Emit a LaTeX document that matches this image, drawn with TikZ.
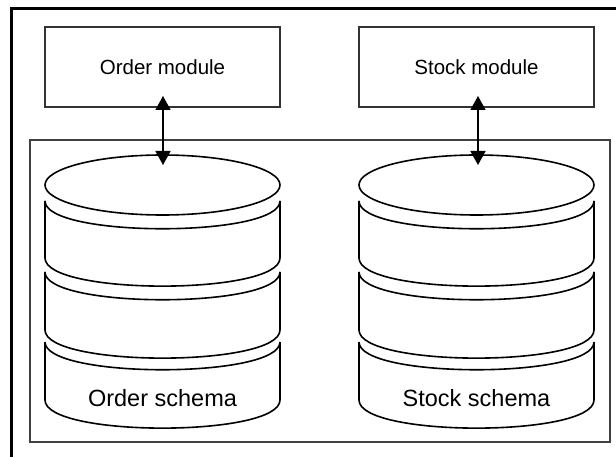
\documentclass[tikz,border=0pt]{standalone}
\usepackage{fontspec}
\setmainfont{Liberation Sans}
\usetikzlibrary{arrows.meta,shapes.geometric}
\begin{document}
\begin{tikzpicture}[x=1pt,y=-1pt,
  modbox/.style={draw=black!80,line width=1.6pt,minimum width=235pt,minimum height=80pt,inner sep=0pt,font=\fontsize{20.5}{24}\selectfont},
  container/.style={draw=black!75,line width=1.8pt},
  topell/.style={draw,ellipse,line width=1.6pt,minimum width=235pt,minimum height=60pt,inner sep=0pt},
  disk/.style={line width=1.6pt},
  lbl/.style={font=\fontsize{23.5}{27}\selectfont,inner sep=0pt},
  link/.style={line width=1.6pt,{Triangle[width=15pt,length=14pt]}-{Triangle[width=15pt,length=14pt]}},
  frame/.style={line width=3pt}
]
\useasboundingbox (0,0) rectangle (616,457);
\fill[white] (0,0) rectangle (616,457);
% outer frame (left and top edges visible)
\draw[frame] (11.5,457) -- (11.5,9) -- (616,9);
% inner container
\draw[container] (30,140) rectangle (610,442);
% modules
\node[modbox] (om) at (162.5,67) {Order module};
\node[modbox] (sm) at (476.5,67) {Stock module};
% cylinders
\foreach \cx/\nm in {162.5/o,476.5/s}{
  \pgfmathsetmacro{\L}{\cx-117.5}
  \pgfmathsetmacro{\R}{\cx+117.5}
  \foreach \yt/\yb in {201/258,272/330,342/400}{
    \draw[disk] (\L,\yt) .. controls (\L,\yt+37) and (\R,\yt+37) .. (\R,\yt);
    \draw[disk] (\L,\yt) -- (\L,\yb) .. controls (\L,\yb+37.5) and (\R,\yb+37.5) .. (\R,\yb) -- (\R,\yt);
  }
}
\node[topell] (otop) at (162.5,185) {};
\node[topell] (stop) at (476.5,185) {};
\node[lbl] (oschema) at (162.5,398) {Order schema};
\node[lbl] (sschema) at (476.5,398) {Stock schema};
% connectors
\coordinate (oa1) at (163,96);
\coordinate (oa2) at (163,165);
\coordinate (sa1) at (478,96);
\coordinate (sa2) at (478,165);
\draw[link] (oa1) -- (oa2);
\draw[link] (sa1) -- (sa2);
\end{tikzpicture}
\end{document}
